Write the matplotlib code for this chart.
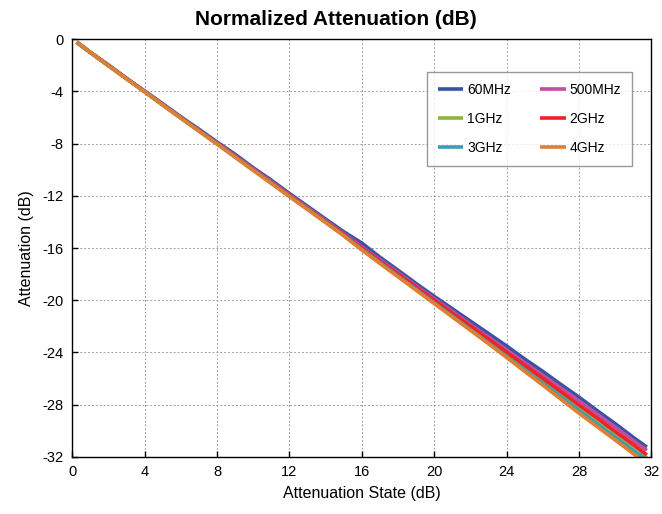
import matplotlib
matplotlib.use("Agg")
import matplotlib.pyplot as plt

plt.rcParams['font.family'] = ['Liberation Sans', 'DejaVu Sans']
plt.rcParams['axes.unicode_minus'] = False

# attenuation state (dB) and measured normalized attenuation (dB) per frequency
states = [0.25, 1, 2, 3, 4, 5, 6, 7, 8, 9, 10, 11, 12, 13, 14, 15, 16,
          17, 18, 19, 20, 21, 22, 23, 24, 25, 26, 27, 28, 29, 30, 31, 31.75]

att_60mhz = [-0.20, -1.00, -1.98, -3.00, -3.97, -4.95, -5.95, -6.90, -7.88, -8.82,
             -9.85, -10.80, -11.82, -12.80, -13.78, -14.75, -15.62, -16.70, -17.70,
             -18.72, -19.70, -20.65, -21.60, -22.55, -23.50, -24.50, -25.45, -26.45,
             -27.42, -28.45, -29.45, -30.50, -31.25]
att_500mhz = [-0.25, -1.02, -2.00, -3.02, -4.00, -5.00, -6.00, -6.97, -7.95, -8.92,
              -9.92, -10.90, -11.92, -12.90, -13.88, -14.88, -15.90, -16.90, -17.88,
              -18.90, -19.88, -20.85, -21.85, -22.82, -23.80, -24.78, -25.75, -26.72,
              -27.70, -28.72, -29.72, -30.75, -31.50]
att_1ghz = [-0.25, -1.02, -2.03, -3.03, -4.03, -5.03, -6.03, -7.02, -8.00, -9.00,
            -10.00, -11.02, -12.02, -13.00, -14.00, -15.00, -16.05, -17.05, -18.08,
            -19.08, -20.10, -21.10, -22.12, -23.12, -24.15, -25.18, -26.20, -27.25,
            -28.30, -29.30, -30.32, -31.35, -32.10]
att_2ghz = [-0.25, -1.02, -2.02, -3.02, -4.02, -5.02, -6.02, -7.00, -7.98, -8.98,
            -9.98, -10.98, -11.98, -12.98, -13.95, -14.95, -16.00, -17.00, -18.00,
            -19.00, -20.00, -21.00, -21.98, -22.98, -23.98, -24.98, -25.98, -27.00,
            -28.02, -29.02, -30.05, -31.05, -31.85]
att_3ghz = [-0.25, -1.03, -2.03, -3.03, -4.03, -5.04, -6.04, -7.03, -8.02, -9.02,
            -10.03, -11.03, -12.03, -13.02, -14.02, -15.03, -16.10, -17.12, -18.15,
            -19.17, -20.20, -21.22, -22.25, -23.28, -24.30, -25.33, -26.36, -27.40,
            -28.45, -29.47, -30.50, -31.52, -32.25]
att_4ghz = [-0.22, -1.02, -2.05, -3.04, -4.04, -5.06, -6.06, -7.05, -8.04, -9.05,
            -10.06, -11.05, -12.06, -13.05, -14.05, -15.06, -16.15, -17.18, -18.20,
            -19.23, -20.25, -21.28, -22.30, -23.33, -24.38, -25.45, -26.50, -27.58,
            -28.65, -29.68, -30.70, -31.75, -32.50]

series = [
    ("60MHz", att_60mhz, "#3a52a3"),
    ("500MHz", att_500mhz, "#bf4f9f"),
    ("1GHz", att_1ghz, "#8cb43f"),
    ("2GHz", att_2ghz, "#ee2228"),
    ("3GHz", att_3ghz, "#35a0b8"),
    ("4GHz", att_4ghz, "#e07f30"),
]

x_ticks = [0, 4, 8, 12, 16, 20, 24, 28, 32]
y_ticks = [0, -4, -8, -12, -16, -20, -24, -28, -32]

fig = plt.figure(figsize=(6.62, 5.14), dpi=100)
ax = fig.add_axes([0.109, 0.111, 0.875, 0.813])

lines = {}
for name, vals, col in series:
    ln, = ax.plot(states, vals, color=col, lw=2.6, label=name, solid_capstyle='butt')
    lines[name] = ln

ax.set_xlim(0, 32)
ax.set_ylim(-32, 0)
ax.set_xticks(x_ticks)
ax.set_xticklabels([str(t) for t in x_ticks])
ax.set_yticks(y_ticks)
ax.set_yticklabels([str(t) for t in y_ticks])
ax.tick_params(direction='in', length=4, width=1, labelsize=10.5, pad=6)
ax.grid(True, color='#a0a0a0', linestyle=(0, (2, 2)), linewidth=0.7)
ax.set_axisbelow(True)
for s in ax.spines.values():
    s.set_linewidth(1.0)
    s.set_color('black')

ax.set_xlabel("Attenuation State (dB)", fontsize=11.5, labelpad=5)
ax.set_ylabel("Attenuation (dB)", fontsize=11.5, labelpad=6)
fig.text(0.507, 0.962, "Normalized Attenuation (dB)", ha='center', va='center',
         fontsize=15, fontweight='bold')

order = ["60MHz", "1GHz", "3GHz", "500MHz", "2GHz", "4GHz"]
leg = ax.legend([lines[n] for n in order], order, ncol=2, loc='upper left',
                bbox_to_anchor=(0.612, 0.922), fontsize=10, frameon=True,
                fancybox=False, edgecolor='#808080', handlelength=1.85,
                handletextpad=0.25, labelspacing=1.1, columnspacing=2.1,
                borderpad=0.8, borderaxespad=0)
leg.get_frame().set_linewidth(1.0)

fig.savefig("out.png", dpi=100)
